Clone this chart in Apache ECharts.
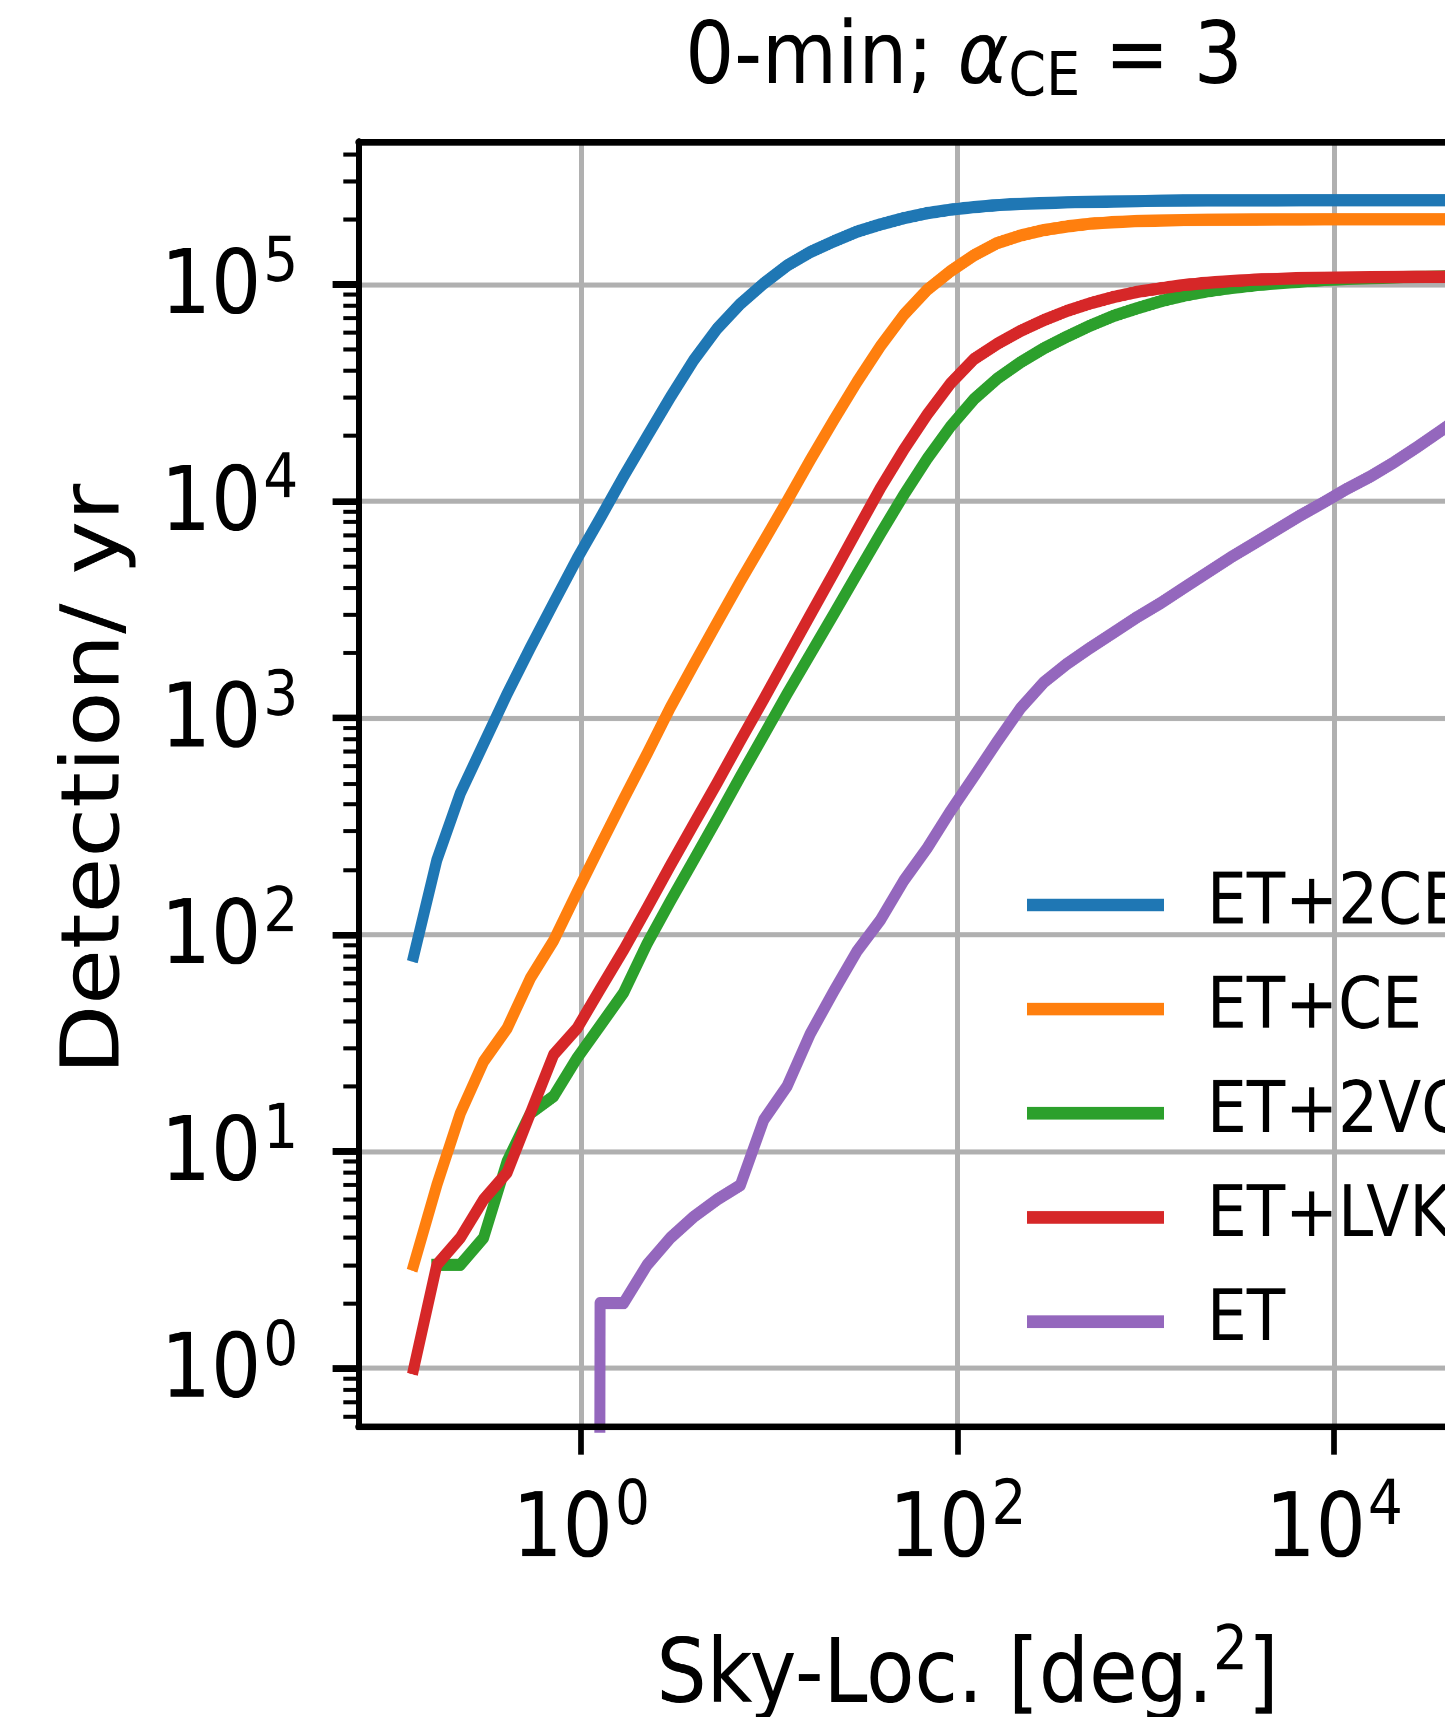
<!DOCTYPE html>
<html>
<head>
<meta charset="utf-8">
<title>0-min; αCE = 3</title>
<script src="https://cdn.jsdelivr.net/npm/echarts@6/dist/echarts.min.js"></script>
<style>
  html, body { margin: 0; padding: 0; background: #ffffff; }
  #page { position: relative; width: 1445px; height: 1717px; overflow: hidden; background: #ffffff; }
  /* the figure is drawn 1445 x 1533 and shown with a 1.12 vertical stretch */
  #chart { position: absolute; left: 0; top: 0; width: 1445px; height: 1533px; transform: scaleY(1.12); transform-origin: 0 0; }
</style>
</head>
<body>
<div id="page"><div id="chart"></div></div>
<script>
// Sky-localisation area thresholds [deg^2]
const skyArea = [0.129, 0.171, 0.228, 0.303, 0.404, 0.537, 0.714, 0.951, 1.26, 1.68,
  2.24, 2.98, 3.96, 5.27, 7.01, 9.33, 12.4, 16.5, 22.0, 29.2,
  38.9, 51.8, 68.9, 91.6, 122, 162, 216, 287, 382, 508,
  676, 900, 1200, 1590, 2120, 2820, 3750, 4990, 6640, 8830,
  11700, 15600, 20800, 27700, 36800, 49000, 65200, 86700];

// Detections per year localised within each area
const detET2CE = [80, 221, 449, 759, 1290, 2110, 3390, 5430, 8320, 13000,
  19900, 30200, 44700, 62400, 81300, 101000, 122000, 141000, 158000, 175000,
  189000, 202000, 213000, 221000, 227000, 232000, 235000, 237000, 239000, 240000,
  241000, 242000, 243000, 243500, 244000, 244000, 244000, 244200, 244300, 244400,
  244400, 244500, 244500, 244500, 244500, 244500, 244500, 244500];
const detETCE = [3, 7, 15, 26, 37, 63, 94, 157, 257, 422,
  684, 1120, 1760, 2750, 4270, 6530, 10000, 15500, 23700, 35500,
  51900, 72400, 94400, 115000, 136000, 155000, 168000, 178000, 185000, 190500,
  193600, 195900, 197000, 197800, 198400, 198800, 199100, 199300, 199400, 199500,
  199500, 199500, 199500, 199500, 199500, 199500, 199500, 199500];
const detET2VC = [null, 3, 3, 4, 9, 15, 18, 27, 38, 54,
  91, 143, 221, 343, 537, 832, 1290, 1970, 3020, 4620,
  7080, 10700, 15700, 22100, 29500, 36700, 43700, 50700, 57500, 64600,
  71600, 77600, 83600, 88700, 92900, 96200, 98900, 101200, 103000, 104700,
  105900, 106900, 107600, 108400, 108900, 109100, 109400, 109600];
const detETLVK = [1, 3, 4, 6, 8, 15, 28, 37, 56, 85,
  133, 209, 324, 501, 785, 1220, 1910, 2990, 4680, 7330,
  11500, 17300, 25100, 34900, 45200, 53100, 61000, 68400, 75500, 81800,
  87500, 92300, 95900, 99300, 101600, 103500, 105000, 105900, 106700, 107200,
  107600, 107900, 108100, 108300, 108400, 108400, 108400, 108400];
const detET = [0, 0, 0, 0, 0, 0, 0, 0, 2, 2,
  3, 4, 5, 6, 7, 14, 20, 35, 55, 84,
  117, 178, 251, 372, 537, 776, 1110, 1460, 1780, 2110,
  2480, 2920, 3390, 3980, 4680, 5500, 6380, 7410, 8610, 9890,
  11400, 13000, 15100, 17800, 21100, 25100, 30200, 36300];

const seriesNames = ['ET+2CE', 'ET+CE', 'ET+2VC', 'ET+LVK', 'ET'];
const seriesColors = ['#1f77b4', '#ff7f0e', '#2ca02c', '#d62728', '#9467bd'];

// Decade exponents carrying labels
const xTickExponents = [0, 2, 4];
const yTickExponents = [0, 1, 2, 3, 4, 5];

// Axis extents in log10 units
const X_MIN = -1.184, X_MAX = 5.29;
const Y_MIN = -0.269, Y_MAX = 5.658;
// Zero counts have no place on a log axis: they are sent far below the frame and clipped
const LOG_FLOOR = -60;

const FONT = 'DejaVu Sans';

function toLogPairs(values) {
  const out = [];
  values.forEach(function (v, i) {
    if (v === null) return;
    out.push([Math.log10(skyArea[i]), v > 0 ? Math.log10(v) : LOG_FLOOR]);
  });
  return out;
}

// minor ticks at 2..9 x 10^n on the count axis
const yMinorTicks = [];
for (let e = -1; e <= 5; e++) {
  for (let k = 2; k <= 9; k++) {
    const v = e + Math.log10(k);
    if (v > Y_MIN && v < Y_MAX) yMinorTicks.push(v);
  }
}

const powerLabel = function (v) { return '{b|10}{s|' + Math.round(v) + '}'; };
const powerRich = {
  b: { fontFamily: FONT, fontSize: 79, fontWeight: 'normal', color: '#000', lineHeight: 100 },
  s: { fontFamily: FONT, fontSize: 55, fontWeight: 'normal', color: '#000', lineHeight: 52, verticalAlign: 'top', padding: [0, 0, 0, 2] }
};

const allSeries = [detET2CE, detETCE, detET2VC, detETLVK, detET].map(function (vals, i) {
  return {
    name: seriesNames[i],
    type: 'line',
    xAxisIndex: 0,
    yAxisIndex: 0,
    data: toLogPairs(vals),
    color: seriesColors[i],
    showSymbol: false,
    symbol: 'none',
    clip: true,
    lineStyle: { width: 11, color: seriesColors[i], cap: 'square', join: 'round' },
    itemStyle: { color: seriesColors[i] },
    emphasis: { disabled: true },
    z: 2
  };
});

const chart = echarts.init(document.getElementById('chart'), null, { renderer: 'canvas', devicePixelRatio: 2 });

chart.setOption({
  animation: false,
  backgroundColor: '#ffffff',
  textStyle: { fontFamily: FONT },
  title: {
    text: '{n|0-min; }{a|α}{sub|CE}{n| = 3}',
    left: 964,
    top: 10,
    textAlign: 'center',
    padding: 0,
    textStyle: {
      fontWeight: 'normal',
      rich: {
        n: { fontFamily: FONT, fontSize: 77, fontWeight: 'normal', color: '#000', lineHeight: 88 },
        a: { fontFamily: FONT, fontSize: 77, fontWeight: 'normal', fontStyle: 'italic', color: '#000', lineHeight: 88 },
        sub: { fontFamily: FONT, fontSize: 54, fontWeight: 'normal', color: '#000', lineHeight: 46, verticalAlign: 'bottom' }
      }
    }
  },
  legend: {
    orient: 'vertical',
    left: 1027,
    top: 773,
    padding: 0,
    icon: 'rect',
    itemWidth: 137,
    itemHeight: 11.3,
    itemGap: 23,
    data: seriesNames,
    textStyle: { fontFamily: FONT, fontSize: 63, color: '#000', lineHeight: 70, padding: [0, 0, 0, 38] }
  },
  grid: {
    left: 358.3,
    top: 126.5,
    width: 1218.7,
    height: 1147.3,
    containLabel: false,
    outerBoundsMode: 'none'
  },
  xAxis: [
    {
      type: 'value', min: X_MIN, max: X_MAX, position: 'bottom',
      axisLine: { show: true, onZero: false, lineStyle: { color: '#000', width: 6 } },
      axisTick: { show: true, length: 25, customValues: xTickExponents, lineStyle: { color: '#000', width: 5.7 } },
      axisLabel: { show: true, customValues: xTickExponents, margin: 45, formatter: powerLabel, rich: powerRich },
      splitLine: { show: true, lineStyle: { color: '#b0b0b0', width: 5 } },
      name: '{n|Sky-Loc. [deg.}{s|2}{n|]}',
      nameLocation: 'middle',
      nameGap: 175,
      nameTextStyle: {
        rich: {
          n: { fontFamily: FONT, fontSize: 79, color: '#000', lineHeight: 100 },
          s: { fontFamily: FONT, fontSize: 55, color: '#000', lineHeight: 52, verticalAlign: 'top' }
        }
      }
    },
    {
      type: 'value', min: X_MIN, max: X_MAX, position: 'top', z: 10,
      axisLine: { show: true, onZero: false, lineStyle: { color: '#000', width: 6 } },
      axisTick: { show: false }, axisLabel: { show: false }, splitLine: { show: false }
    },
    {
      type: 'value', min: X_MIN, max: X_MAX, position: 'bottom', z: 10,
      axisLine: { show: true, onZero: false, lineStyle: { color: '#000', width: 6 } },
      axisTick: { show: false }, axisLabel: { show: false }, splitLine: { show: false }
    }
  ],
  yAxis: [
    {
      type: 'value', min: Y_MIN, max: Y_MAX, position: 'left',
      axisLine: { show: true, onZero: false, lineStyle: { color: '#000', width: 6 } },
      axisTick: { show: true, length: 25.7, customValues: yTickExponents, lineStyle: { color: '#000', width: 6 } },
      axisLabel: { show: true, customValues: yTickExponents, margin: 60, padding: [10, 0, 0, 0], formatter: powerLabel, rich: powerRich },
      splitLine: { show: true, lineStyle: { color: '#b0b0b0', width: 4.5 } },
      name: 'Detection/ yr',
      nameLocation: 'middle',
      nameGap: 220.5,
      nameTextStyle: { fontFamily: FONT, fontSize: 81, color: '#000', lineHeight: 81, padding: [0, 0, 0, 9] }
    },
    {
      type: 'value', min: Y_MIN, max: Y_MAX, position: 'left', offset: 0, z: 10,
      axisLine: { show: true, onZero: false, lineStyle: { color: '#000', width: 6 } },
      axisTick: { show: true, length: 15, customValues: yMinorTicks, lineStyle: { color: '#000', width: 3.6 } },
      axisLabel: { show: false }, splitLine: { show: false }
    }
  ],
  series: allSeries
});
</script>
</body>
</html>
